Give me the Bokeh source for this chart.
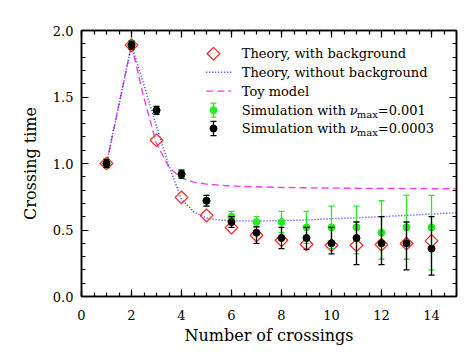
from bokeh.plotting import figure
from bokeh.models import (LinearAxis, SingleIntervalTicker, CustomJSTickFormatter)
from bokeh.core.properties import value
from bokeh.embed import file_html
from bokeh.resources import INLINE
import numpy as np

# ---------------- data ----------------
n_cross = [1, 2, 3, 4, 5, 6, 7, 8, 9, 10, 11, 12, 13, 14]
theory_bg = [1.00, 1.89, 1.175, 0.745, 0.61, 0.518, 0.46, 0.423, 0.393, 0.385, 0.385, 0.39, 0.398, 0.418]

theory_nobg_x = [1, 2, 2.5, 3, 3.5, 4, 4.5, 5, 5.5, 6, 7, 8, 9, 10, 11, 12, 13, 14, 15]
theory_nobg_y = [1.0, 1.89, 1.59, 1.28, 0.98, 0.73, 0.635, 0.59, 0.575, 0.57, 0.568, 0.57, 0.575,
                 0.585, 0.592, 0.60, 0.61, 0.62, 0.63]

toy_x = [1, 2, 2.5, 3, 3.5, 4, 4.5, 5, 6, 7, 8, 10, 12, 15]
toy_y = [1.0, 1.89, 1.49, 1.15, 0.97, 0.89, 0.86, 0.845, 0.83, 0.825, 0.82, 0.815, 0.812, 0.81]

sim1_y = [1.00, 1.89, 1.40, 0.92, 0.72, 0.60, 0.56, 0.56, 0.52, 0.52, 0.52, 0.48, 0.52, 0.52]
sim1_lo = [0.97, 1.86, 1.37, 0.89, 0.68, 0.56, 0.52, 0.48, 0.40, 0.36, 0.32, 0.28, 0.28, 0.20]
sim1_hi = [1.03, 1.92, 1.43, 0.95, 0.76, 0.64, 0.60, 0.64, 0.64, 0.68, 0.68, 0.72, 0.76, 0.76]

sim2_y = [1.00, 1.89, 1.40, 0.92, 0.72, 0.56, 0.48, 0.44, 0.44, 0.40, 0.44, 0.40, 0.40, 0.36]
sim2_lo = [0.97, 1.86, 1.37, 0.89, 0.68, 0.52, 0.40, 0.36, 0.355, 0.32, 0.24, 0.24, 0.20, 0.16]
sim2_hi = [1.03, 1.92, 1.43, 0.95, 0.76, 0.60, 0.525, 0.52, 0.52, 0.52, 0.56, 0.60, 0.56, 0.60]

legend_labels = ["Theory, with background", "Theory, without background", "Toy model",
                 "Simulation with ", "Simulation with "]
sim_vmax = ["=0.001", "=0.0003"]

# ---------------- styles ----------------
RED = "#ff2a2a"
BLUE = "#3838ff"
MAG = "#ff3ce8"
GREEN = "#22ee22"
FONT = "DejaVu Serif"

p = figure(width=460, height=347, x_range=(0, 15), y_range=(0, 2),
           output_backend="svg", toolbar_location=None,
           min_border_left=81, min_border_right=4, min_border_top=30, min_border_bottom=51)
p.xgrid.visible = False
p.ygrid.visible = False
p.outline_line_color = "black"
p.outline_line_width = 1.5
p.background_fill_color = "white"
p.border_fill_color = "white"

p.xaxis.ticker = SingleIntervalTicker(interval=2, num_minor_ticks=4)
p.yaxis.ticker = SingleIntervalTicker(interval=0.5, num_minor_ticks=5)
p.yaxis.formatter = CustomJSTickFormatter(code="return tick.toFixed(1);")

for ax in (p.xaxis[0], p.yaxis[0]):
    ax.major_tick_in = 7
    ax.major_tick_out = 0
    ax.minor_tick_in = 4
    ax.minor_tick_out = 0
    ax.axis_line_width = 1.5
    ax.major_tick_line_width = 1.2
    ax.minor_tick_line_width = 1.2
    ax.major_label_text_font = FONT
    ax.major_label_text_font_size = "13px"
    ax.major_label_text_color = "black"
    ax.axis_label_text_font = FONT
    ax.axis_label_text_font_size = "16px"
    ax.axis_label_text_font_style = "normal"
    ax.axis_label_text_color = "black"

p.xaxis.axis_label = "Number of crossings"
p.yaxis.axis_label = "Crossing time"
p.xaxis.major_label_standoff = 13
p.yaxis.major_label_standoff = 8
p.xaxis.axis_label_standoff = 3
p.yaxis.axis_label_standoff = 10

for loc, tk in (("right", SingleIntervalTicker(interval=0.5, num_minor_ticks=5)),
                ("above", SingleIntervalTicker(interval=2, num_minor_ticks=4))):
    ax = LinearAxis(ticker=tk, formatter=CustomJSTickFormatter(code="return '';"))
    ax.major_tick_in = 7
    ax.major_tick_out = 0
    ax.minor_tick_in = 4
    ax.minor_tick_out = 0
    ax.axis_line_width = 1.5
    ax.major_tick_line_width = 1.2
    ax.minor_tick_line_width = 1.2
    ax.major_label_text_font_size = "0px"
    ax.major_label_standoff = 0
    p.add_layout(ax, loc)

# ---------------- curves ----------------
p.line(toy_x, toy_y, line_color=MAG, line_width=1.4, line_dash="7 4")
p.line(theory_nobg_x, theory_nobg_y, line_color=BLUE, line_width=1.5, line_dash="1 2")
p.scatter(n_cross, theory_bg, marker="square", angle=np.pi / 4, size=9,
          fill_color=None, line_color=RED, line_width=1.3)

def errbars(x, y, lo, hi, color, dot):
    p.segment(x0=x, y0=lo, x1=x, y1=hi, line_color=color, line_width=1.3)
    p.scatter(x, lo, marker="dash", size=6, line_color=color, line_width=1.3)
    p.scatter(x, hi, marker="dash", size=6, line_color=color, line_width=1.3)
    p.scatter(x, y, marker="circle", size=7, fill_color=dot, line_color=dot)

errbars(n_cross, sim1_y, sim1_lo, sim1_hi, GREEN, GREEN)
errbars(n_cross, sim2_y, sim2_lo, sim2_hi, "black", "black")

# ---------------- legend (drawn by hand) ----------------
leg_rows = [1.825, 1.687, 1.544, 1.401, 1.263]
leg_sym_x = 5.28
leg_line_x = [4.99, 5.99]
leg_text_x = 6.41
leg_err = 0.053

p.scatter([leg_sym_x], [leg_rows[0]], marker="square", angle=np.pi / 4, size=9,
          fill_color=None, line_color=RED, line_width=1.3)
p.line(leg_line_x, [leg_rows[1]] * 2, line_color=BLUE, line_width=1.5, line_dash="1 2")
p.line(leg_line_x, [leg_rows[2]] * 2, line_color=MAG, line_width=1.4, line_dash="7 4")
errbars([leg_sym_x], [leg_rows[3]], [leg_rows[3] - leg_err], [leg_rows[3] + leg_err], GREEN, GREEN)
errbars([leg_sym_x], [leg_rows[4]], [leg_rows[4] - leg_err], [leg_rows[4] + leg_err], "black", "black")

p.text([leg_text_x] * 5, leg_rows, text=legend_labels, text_font=value(FONT),
       text_font_size="13px", text_baseline="middle", text_align="left", text_color="black")
p.text([leg_text_x] * 2, leg_rows[3:], text=["ν", "ν"], x_offset=108,
       text_font=value(FONT), text_font_style="italic",
       text_font_size="13px", text_baseline="middle", text_align="left", text_color="black")
p.text([leg_text_x] * 2, leg_rows[3:], text=["max", "max"], x_offset=115, y_offset=4,
       text_font=value(FONT),
       text_font_size="10px", text_baseline="middle", text_align="left", text_color="black")
p.text([leg_text_x] * 2, leg_rows[3:], text=sim_vmax, x_offset=136,
       text_font=value(FONT),
       text_font_size="13px", text_baseline="middle", text_align="left", text_color="black")

open("out.html", "w").write(file_html(p, INLINE))
